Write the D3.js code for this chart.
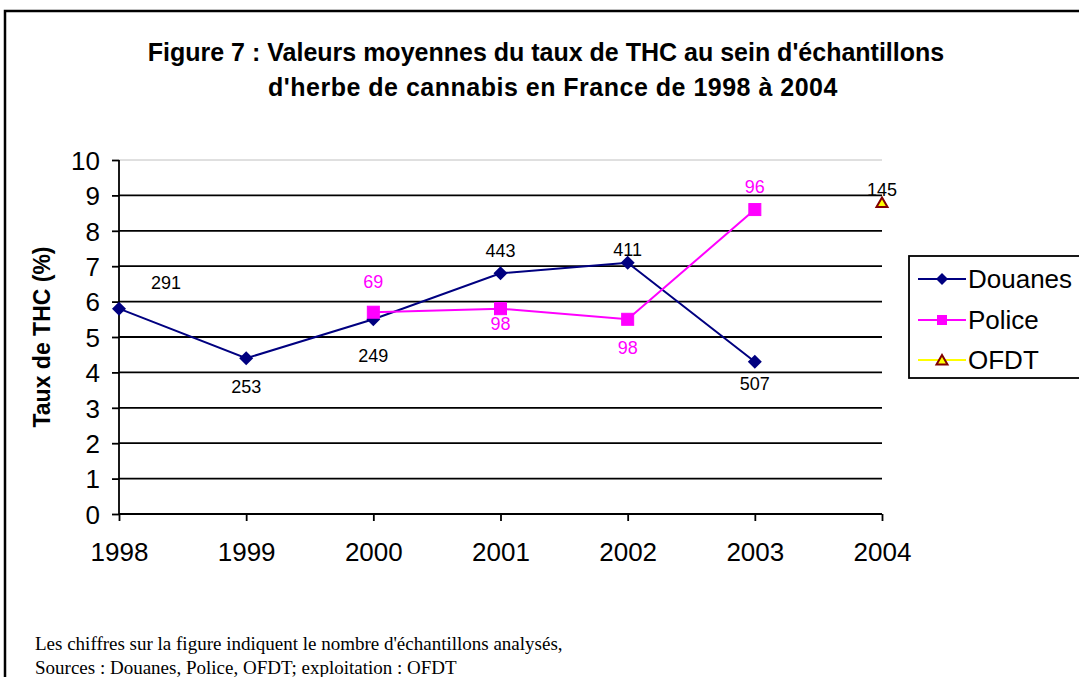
<!DOCTYPE html>
<html><head><meta charset="utf-8">
<script src="https://cdn.jsdelivr.net/npm/d3@7"></script>
<style>body{margin:0;background:#fff}svg{display:block}</style>
</head><body>
<script>
const years = [1998, 1999, 2000, 2001, 2002, 2003, 2004];
const douanes = [5.8, 4.4, 5.5, 6.8, 7.1, 4.3, null];
const police = [null, null, 5.7, 5.8, 5.5, 8.6, null];
const ofdt = [null, null, null, null, null, null, 8.8];
const douanesN = [291, 253, 249, 443, 411, 507, null];
const policeN = [null, null, 69, 98, 98, 96, null];
const ofdtN = [null, null, null, null, null, null, 145];
const yTicks = [0,1,2,3,4,5,6,7,8,9,10];

// label placement categories (style, not data)
const douanesPos = ["ar", "b", "bf", "a", "an", "bm", null];
const policePos = [null, null, "af", "bn", "b", "a", null];
const ofdtPos = [null, null, null, null, null, null, "an"];
const placement = {
  a:  {dx:0, dy:-23}, an: {dx:0, dy:-13}, af: {dx:0, dy:-31},
  b:  {dx:0, dy:28},  bm: {dx:0, dy:22}, bn: {dx:0, dy:15},  bf: {dx:0, dy:36},
  ar: {dx:47, dy:-26}
};

const W = 1079, H = 677;
const AR = "Arial, 'Liberation Sans', sans-serif";
const svg = d3.select("body").append("svg").attr("width", W).attr("height", H);
svg.append("rect").attr("x",0).attr("y",0).attr("width",W).attr("height",H).attr("fill","#fff");
svg.append("path").attr("d","M5,"+(H+5)+"V11H"+(W+5)).attr("fill","none").attr("stroke","#000").attr("stroke-width",2.5);

const x = d3.scalePoint().domain(years).range([119, 882]);
const y = d3.scaleLinear().domain([0,10]).range([514, 160]);

// title
const title = svg.append("text").attr("font-family",AR).attr("font-weight","bold").attr("font-size",25).attr("text-anchor","middle").attr("fill","#000");
title.append("tspan").attr("x",546).attr("y",61).text("Figure 7 : Valeurs moyennes du taux de THC au sein d'échantillons");
title.append("tspan").attr("x",553).attr("y",96).attr("letter-spacing",0.5).text("d'herbe de cannabis en France de 1998 à 2004");

// gridlines
svg.append("g").selectAll("line").data(yTicks.filter(d=>d>0)).join("line")
  .attr("x1",119).attr("x2",882).attr("y1",d=>y(d)).attr("y2",d=>y(d))
  .attr("stroke",d=>d===10?"#c0c0c0":"#000").attr("stroke-width",d=>d===10?1:1.8);

// y axis
const ya = svg.append("g").attr("transform","translate(119,0)")
  .call(d3.axisLeft(y).tickValues(yTicks).tickSize(7).tickPadding(12).tickFormat(d3.format("d")));
ya.select(".domain").attr("stroke","#000").attr("stroke-width",1.8).attr("d","M0,160V514");
ya.selectAll(".tick line").attr("stroke","#000").attr("stroke-width",1.8);
ya.selectAll(".tick text").attr("font-family",AR).attr("font-size",26).attr("fill","#000").attr("dy","0.36em");

// x axis
const xa = svg.append("g").attr("transform","translate(0,514)")
  .call(d3.axisBottom(x).tickSize(7).tickPadding(22));
xa.select(".domain").attr("stroke","#000").attr("stroke-width",1.8).attr("d","M119,0H882");
xa.selectAll(".tick line").attr("stroke","#000").attr("stroke-width",1.8);
xa.selectAll(".tick text").attr("font-family",AR).attr("font-size",26).attr("fill","#000");

// y axis title
svg.append("text").attr("transform","translate(50,337) rotate(-90)").attr("text-anchor","middle")
  .attr("font-family",AR).attr("font-weight","bold").attr("font-size",23).text("Taux de THC (%)");

const line = d3.line().defined(d=>d.v!=null).x(d=>x(d.yr)).y(d=>y(d.v));
function series(vals){ return years.map((yr,i)=>({yr, v: vals[i], i})); }

svg.append("path").datum(series(douanes)).attr("d",line).attr("fill","none").attr("stroke","#000080").attr("stroke-width",2);
svg.append("path").datum(series(police)).attr("d",line).attr("fill","none").attr("stroke","#ff00ff").attr("stroke-width",2);

svg.append("g").selectAll("path").data(series(douanes).filter(d=>d.v!=null)).join("path")
  .attr("transform",d=>`translate(${x(d.yr)},${y(d.v)})`)
  .attr("d","M0,-7L7,0L0,7L-7,0Z").attr("fill","#000080");
svg.append("g").selectAll("rect").data(series(police).filter(d=>d.v!=null)).join("rect")
  .attr("x",d=>x(d.yr)-6).attr("y",d=>y(d.v)-6).attr("width",12).attr("height",12)
  .attr("fill","#ff00ff").attr("stroke","#ff00ff").attr("stroke-width",1);
svg.append("g").selectAll("path").data(series(ofdt).filter(d=>d.v!=null)).join("path")
  .attr("transform",d=>`translate(${x(d.yr)},${y(d.v)})`)
  .attr("d","M0,-5L5.5,4.5L-5.5,4.5Z").attr("fill","#ffff00").attr("stroke","#800000").attr("stroke-width",2);

function labels(vals, ns, pos, color){
  svg.append("g").selectAll("text").data(series(vals).filter(d=>d.v!=null && ns[d.i]!=null)).join("text")
    .attr("x",d=>x(d.yr) + placement[pos[d.i]].dx)
    .attr("y",d=>y(d.v) + placement[pos[d.i]].dy)
    .attr("dy","0.36em")
    .attr("text-anchor","middle").attr("font-family",AR).attr("font-size",18).attr("fill",color)
    .text(d=>ns[d.i]);
}
labels(douanes, douanesN, douanesPos, "#000");
labels(police, policeN, policePos, "#ff00ff");
labels(ofdt, ofdtN, ofdtPos, "#000");

// legend
const lg = svg.append("g");
lg.append("rect").attr("x",909).attr("y",256).attr("width",180).attr("height",122).attr("fill","#fff").attr("stroke","#000").attr("stroke-width",1.8);
const legItems = [
  {name:"Douanes", color:"#000080", y:279, mk:"diamond"},
  {name:"Police", color:"#ff00ff", y:320, mk:"square"},
  {name:"OFDT", color:"#ffff00", y:360, mk:"tri"}
];
legItems.forEach(it=>{
  lg.append("line").attr("x1",918).attr("x2",966).attr("y1",it.y).attr("y2",it.y).attr("stroke",it.color).attr("stroke-width",2);
  if(it.mk==="diamond") lg.append("path").attr("transform",`translate(942,${it.y})`).attr("d","M0,-6L6,0L0,6L-6,0Z").attr("fill","#000080");
  if(it.mk==="square") lg.append("rect").attr("x",937).attr("y",it.y-5).attr("width",10).attr("height",10).attr("fill","#ff00ff");
  if(it.mk==="tri") lg.append("path").attr("transform",`translate(942,${it.y})`).attr("d","M0,-5L5.5,4.5L-5.5,4.5Z").attr("fill","#ffff00").attr("stroke","#800000").attr("stroke-width",2);
  lg.append("text").attr("x",968).attr("y",it.y).attr("dy","0.36em").attr("font-family",AR).attr("font-size",26).attr("fill","#000").text(it.name);
});

// footnote
const fn = svg.append("text").attr("font-family","'Times New Roman', 'Liberation Serif', serif").attr("font-size",19).attr("fill","#000");
fn.append("tspan").attr("x",35).attr("y",650).text("Les chiffres sur la figure indiquent le nombre d'échantillons analysés,");
fn.append("tspan").attr("x",35).attr("y",674).text("Sources : Douanes, Police, OFDT; exploitation : OFDT");
</script>
</body></html>
